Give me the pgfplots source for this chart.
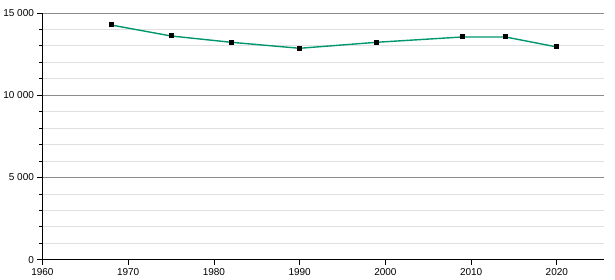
\documentclass[border=0pt]{standalone}
\usepackage{fontspec}
\setmainfont{Liberation Sans}
\usepackage{pgfplots}
\pgfplotsset{compat=1.18}
\definecolor{linegreen}{RGB}{0,150,110}
\begin{document}
\begin{tikzpicture}
\begin{axis}[
  scale only axis,
  width=562pt, height=247pt,
  xmin=1960, xmax=2025.5,
  ymin=0, ymax=15000,
  axis x line=bottom, axis y line=left,
  axis line style={-, black, line width=0.8pt},
  xtick={1960,1970,...,2020},
  ytick={0,5000,10000,15000},
  minor ytick={1000,2000,...,14000},
  scaled y ticks=false,
  tick align=outside,
  major tick length=5pt, minor tick length=3pt,
  tick style={black, line width=0.8pt},
  ymajorgrids, yminorgrids,
  major grid style={gray!90, line width=0.8pt},
  minor grid style={black!12, line width=0.8pt},
  tick label style={font=\fontsize{10}{12}\selectfont},
  /pgf/number format/assume math mode=true,
  y tick label style={/pgf/number format/fixed, /pgf/number format/1000 sep={\ }},
  x tick label style={/pgf/number format/1000 sep={}},
  clip=false,
]
\addplot[linegreen, line width=1.4pt, mark=square*, mark size=1.8pt, mark options={black, solid}]
coordinates {
(1968,14271)
(1975,13603)
(1982,13220)
(1990,12855)
(1999,13220)
(2009,13543)
(2014,13543)
(2020,12935)
};
\end{axis}
\useasboundingbox (-42pt,-20pt) rectangle (573pt,260pt);
\end{tikzpicture}
\end{document}
